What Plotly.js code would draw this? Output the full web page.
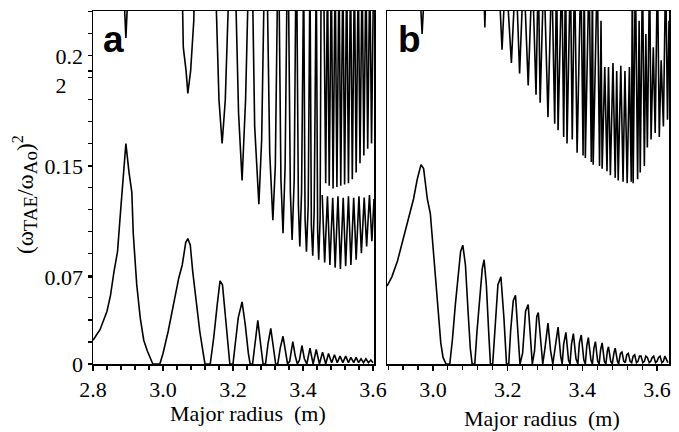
<!DOCTYPE html>
<html>
<head>
<meta charset="utf-8">
<script src="https://cdn.plot.ly/plotly-3.0.1.min.js"></script>
<style>html,body{margin:0;padding:0;background:#fff;}#chart{width:679px;height:432px;}</style>
</head>
<body>
<div id="chart"></div>
<script>
// ---------- Panel a : lower (continuum) curve ----------
const aLowX = [2.800,2.820,2.840,2.850,2.860,2.870,2.880,2.894,2.903,2.911,2.915,2.925,2.935,2.945,2.955,2.971,2.991,3.000,3.015,3.030,3.045,3.055,3.065,3.071,3.078,3.085,3.095,3.105,3.115,3.120,3.135,3.145,3.155,3.163,3.170,3.178,3.186,3.191,3.200,3.205,3.215,3.226,3.235,3.244,3.249,3.256,3.264,3.271,3.279,3.286,3.293,3.300,3.308,3.315,3.322,3.328,3.335,3.343,3.350,3.356,3.362,3.371,3.378,3.384,3.390,3.397,3.404,3.411,3.420,3.429,3.438,3.447,3.456,3.465,3.473,3.482,3.490,3.498,3.506,3.514,3.522,3.530,3.537,3.545,3.552,3.559,3.566,3.573,3.580,3.587,3.594,3.600];
const aLowY = [0.018,0.026,0.040,0.052,0.070,0.085,0.120,0.167,0.145,0.130,0.099,0.060,0.035,0.018,0.010,0.000,0.000,0.008,0.025,0.045,0.065,0.075,0.092,0.095,0.090,0.070,0.045,0.025,0.008,0.000,0.000,0.020,0.045,0.063,0.060,0.035,0.010,0.000,0.000,0.012,0.035,0.047,0.030,0.008,0.000,0.000,0.020,0.033,0.015,0.000,0.000,0.015,0.027,0.015,0.000,0.000,0.012,0.021,0.010,0.000,0.002,0.017,0.006,0.000,0.003,0.014,0.004,0.000,0.012,0.000,0.011,0.000,0.009,0.000,0.008,0.001,0.007,0.001,0.006,0.001,0.006,0.001,0.005,0.001,0.005,0.001,0.004,0.001,0.004,0.001,0.003,0.001];

// ---------- Panel a : upper spikes (values 0.30 lie above the plotted range) ----------
const aUpX = [2.885,2.894,2.903,null,3.054,3.058,3.066,3.071,3.079,3.088,3.091,3.149,3.160,3.169,3.178,3.190,3.206,3.216,3.226,3.236,3.245,3.255,3.262,3.274,3.282,3.290,3.297,3.305,3.314,3.321,3.328,3.331,3.337,3.343,3.349,3.355,3.358,3.364,3.369,3.375,3.380,3.382,3.387,3.391,3.396,3.400,3.402,3.406,3.410,3.415,3.419,3.420,3.424,3.428,3.432,3.436,3.438,3.442,3.445,3.449,3.452,3.459,3.465,3.470,3.475,3.481,3.486,3.492,3.497,3.503,3.508,3.514,3.519,3.525,3.530,3.536,3.541,3.547,3.552,3.558,3.563,3.569,3.574,3.580,3.585,3.591,3.596,3.602];
const aUpY = [0.30,0.247,0.30,null,0.30,0.240,0.222,0.205,0.222,0.260,0.30,0.30,0.200,0.167,0.200,0.30,0.30,0.190,0.139,0.200,0.30,0.30,0.180,0.121,0.170,0.30,0.30,0.160,0.109,0.150,0.30,0.30,0.140,0.099,0.150,0.30,0.30,0.130,0.094,0.140,0.30,0.30,0.120,0.089,0.130,0.30,0.30,0.110,0.085,0.120,0.30,0.30,0.105,0.082,0.115,0.30,0.30,0.100,0.079,0.110,0.30,0.30,0.137,0.30,0.135,0.30,0.133,0.30,0.134,0.30,0.135,0.30,0.136,0.30,0.137,0.30,0.140,0.30,0.145,0.30,0.152,0.30,0.158,0.30,0.163,0.30,0.167,0.30];

// ---------- Panel a : lower band of the upper continuum ----------
const aMidX = [3.455,3.462,3.470,3.477,3.485,3.492,3.500,3.507,3.515,3.522,3.530,3.537,3.545,3.552,3.560,3.567,3.575,3.582,3.590,3.597,3.603];
const aMidY = [0.128,0.077,0.127,0.075,0.126,0.073,0.127,0.072,0.126,0.074,0.127,0.075,0.126,0.079,0.127,0.084,0.126,0.089,0.128,0.093,0.125];

// ---------- Panel b : lower curve ----------
const bLowX = [2.877,2.890,2.905,2.920,2.935,2.948,2.958,2.968,2.975,2.985,2.993,3.003,3.008,3.015,3.021,3.027,3.035,3.045,3.052,3.060,3.068,3.074,3.080,3.087,3.094,3.100,3.105,3.112,3.118,3.126,3.132,3.137,3.143,3.150,3.154,3.160,3.166,3.174,3.182,3.190,3.197,3.203,3.208,3.215,3.221,3.228,3.233,3.240,3.248,3.255,3.262,3.266,3.272,3.278,3.282,3.290,3.294,3.300,3.308,3.315,3.321,3.327,3.335,3.342,3.346,3.350,3.356,3.363,3.367,3.371,3.376,3.383,3.388,3.392,3.397,3.404,3.408,3.412,3.416,3.423,3.427,3.431,3.435,3.441,3.445,3.449,3.453,3.459,3.463,3.467,3.470,3.476,3.480,3.485,3.488,3.494,3.497,3.502,3.506,3.511,3.515,3.519,3.523,3.528,3.532,3.536,3.540,3.545,3.549,3.553,3.557,3.562,3.566,3.570,3.574,3.579,3.583,3.587,3.591,3.596,3.600,3.604,3.608,3.613,3.617,3.621,3.625,3.629];
const bLowY = [0.059,0.066,0.078,0.094,0.110,0.125,0.140,0.151,0.148,0.125,0.114,0.080,0.058,0.035,0.016,0.005,0.000,0.000,0.018,0.045,0.068,0.085,0.090,0.075,0.040,0.012,0.000,0.000,0.025,0.055,0.072,0.079,0.060,0.020,0.000,0.000,0.030,0.060,0.066,0.035,0.000,0.000,0.025,0.048,0.052,0.025,0.000,0.008,0.040,0.045,0.015,0.000,0.010,0.036,0.039,0.010,0.000,0.012,0.031,0.010,0.000,0.012,0.028,0.006,0.000,0.015,0.024,0.003,0.000,0.015,0.023,0.004,0.000,0.016,0.022,0.003,0.000,0.014,0.020,0.003,0.000,0.012,0.017,0.002,0.000,0.011,0.016,0.002,0.000,0.010,0.013,0.002,0.000,0.009,0.012,0.002,0.000,0.008,0.009,0.002,0.001,0.007,0.008,0.002,0.001,0.006,0.007,0.001,0.002,0.006,0.006,0.001,0.002,0.006,0.005,0.001,0.002,0.005,0.006,0.001,0.002,0.005,0.006,0.001,0.002,0.006,0.004,0.001];

// ---------- Panel b : upper spikes ----------
const bUpX = [2.962,2.971,2.980,null,3.135,3.139,3.143,null,3.175,3.185,3.195,3.210,3.222,3.232,3.243,3.255,3.266,3.276,3.282,3.287,3.297,3.308,3.318,3.326,3.331,3.335,3.345,3.350,3.355,3.359,3.368,3.373,3.379,3.386,3.396,3.402,3.405,3.408,3.418,3.424,3.427,3.429,3.440,3.446,3.450,3.453,3.460,3.466,3.470,3.475,3.482,3.488,3.492,3.496,3.503,3.509,3.514,3.520,3.526,3.531,3.534,3.536,3.542,3.548,3.552,3.555,3.561,3.566,3.570,3.574,3.580,3.584,3.590,3.595,3.601,3.606,3.611,3.617,3.623,3.628,3.632];
const bUpY = [0.30,0.250,0.30,null,0.30,0.255,0.30,null,0.30,0.238,0.30,0.228,0.30,0.220,0.30,0.211,0.30,0.204,0.30,0.198,0.30,0.187,0.30,0.182,0.30,0.177,0.30,0.172,0.30,0.167,0.30,0.170,0.30,0.160,0.30,0.158,0.30,0.156,0.30,0.153,0.30,0.151,0.30,0.150,0.26,0.148,0.225,0.146,0.225,0.143,0.228,0.141,0.222,0.139,0.226,0.138,0.222,0.137,0.225,0.138,0.30,0.137,0.30,0.140,0.26,0.145,0.30,0.150,0.25,0.164,0.30,0.170,0.24,0.175,0.30,0.172,0.23,0.180,0.30,0.185,0.26];

// ---------- axis labels ----------
const xTickValsA = [2.8,3.0,3.2,3.4,3.6];
const xTickTextA = ["2.8","3.0","3.2","3.4","3.6"];
const xTickValsB = [3.0,3.2,3.4,3.6];
const xTickTextB = ["3.0","3.2","3.4","3.6"];
const yTickVals = [0,0.066,0.15,0.222];
const yTickText = ["0","0.07","0.15","0.2<br>2\u00a0\u00a0\u00a0"];

const serif = "Liberation Serif";
const lineStyle = {color:"#000", width:1.6};

const traces = [
  {x:aLowX, y:aLowY, xaxis:"x", yaxis:"y", mode:"lines", line:lineStyle, hoverinfo:"skip"},
  {x:aUpX, y:aUpY, xaxis:"x", yaxis:"y", mode:"lines", line:lineStyle, hoverinfo:"skip"},
  {x:aMidX, y:aMidY, xaxis:"x", yaxis:"y", mode:"lines", line:lineStyle, hoverinfo:"skip"},
  {x:bLowX, y:bLowY, xaxis:"x2", yaxis:"y2", mode:"lines", line:lineStyle, hoverinfo:"skip"},
  {x:bUpX, y:bUpY, xaxis:"x2", yaxis:"y2", mode:"lines", line:lineStyle, hoverinfo:"skip"}
];

const axBase = {
  showgrid:false, zeroline:false, showline:true, mirror:true,
  linecolor:"#000", linewidth:1.5, ticks:"outside", ticklen:5, tickwidth:1.3, tickcolor:"#000",
  tickfont:{family:serif, size:22, color:"#000"}, fixedrange:true
};

const layout = {
  width:679, height:432,
  margin:{l:0, r:0, t:0, b:0},
  paper_bgcolor:"#fff", plot_bgcolor:"#fff",
  font:{family:serif, color:"#000"},
  showlegend:false,
  xaxis: Object.assign({}, axBase, {
    domain:[93/679, 374/679], range:[2.8, 3.603], anchor:"y",
    tickmode:"array", tickvals:xTickValsA, ticktext:xTickTextA,
    minor:{dtick:0.04, tick0:2.8, ticklen:4, tickwidth:1.2, tickcolor:"#000", ticks:"outside"}
  }),
  yaxis: Object.assign({}, axBase, {
    domain:[68/432, 421/432], range:[0, 0.2674], anchor:"x",
    tickmode:"array", tickvals:yTickVals, ticktext:yTickText, ticklen:4,
    minor:{dtick:0.0167, tick0:0, ticklen:4, tickwidth:1.2, tickcolor:"#000", ticks:"outside"}
  }),
  xaxis2: Object.assign({}, axBase, {
    domain:[387/679, 669/679], range:[2.877, 3.632], anchor:"y2",
    tickmode:"array", tickvals:xTickValsB, ticktext:xTickTextB,
    minor:{dtick:0.04, tick0:3.0, ticklen:4, tickwidth:1.2, tickcolor:"#000", ticks:"outside"}
  }),
  yaxis2: Object.assign({}, axBase, {
    domain:[68/432, 421/432], range:[0, 0.2674], anchor:"x2",
    showticklabels:false, ticks:""
  }),
  annotations:[
    {text:"a", xref:"paper", yref:"paper", x:101/679, y:(432-40)/432, xanchor:"left", yanchor:"middle",
     showarrow:false, font:{family:"Liberation Sans", size:37, color:"#000", weight:"bold"}},
    {text:"b", xref:"paper", yref:"paper", x:396/679, y:(432-40)/432, xanchor:"left", yanchor:"middle",
     showarrow:false, font:{family:"Liberation Sans", size:37, color:"#000", weight:"bold"}},
    {text:"Major radius\u00a0 (m)", xref:"paper", yref:"paper", x:248/679, y:(432-413)/432, xanchor:"center", yanchor:"middle",
     showarrow:false, font:{family:serif, size:22, color:"#000"}},
    {text:"Major radius\u00a0 (m)", xref:"paper", yref:"paper", x:542/679, y:(432-418)/432, xanchor:"center", yanchor:"middle",
     showarrow:false, font:{family:serif, size:22, color:"#000"}},
    {text:"(ω<sub><span style='font-size:19px'>TAE</span></sub>/ω<sub><span style='font-size:19px'>Ao</span></sub>)<sup>2</sup>", xref:"paper", yref:"paper", x:25/679, y:(432-195)/432,
     xanchor:"center", yanchor:"middle", textangle:-90, showarrow:false, font:{family:serif, size:23, color:"#000"}}
  ]
};

Plotly.newPlot("chart", traces, layout, {staticPlot:true, displayModeBar:false});
</script>
</body>
</html>
